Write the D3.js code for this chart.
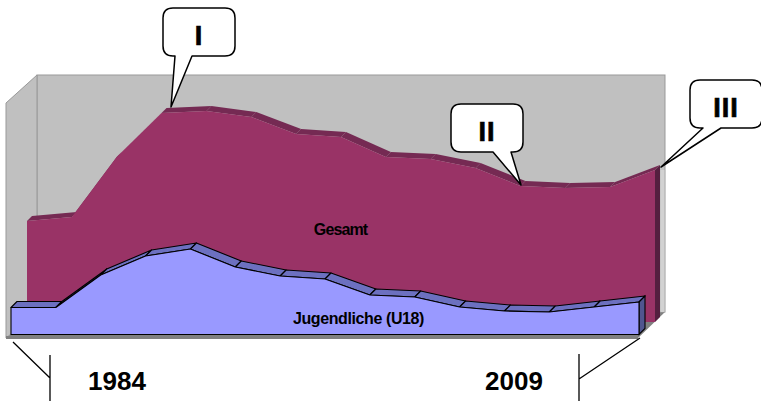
<!DOCTYPE html>
<html>
<head>
<meta charset="utf-8">
<style>
html, body { margin: 0; padding: 0; background: #fff; }
svg { display: block; }
text { font-family: "Liberation Sans", Arial, sans-serif; fill: #000; }
</style>
<script src="https://d3js.org/d3.v7.min.js"></script>
</head>
<body>
<script>

// only the first and last step are labelled in the picture
var steps = [0, 1, 2, 3, 4, 5, 6, 7, 8, 9, 10, 11, 12, 13, 14];
var yearLabels = ["1984", "2009"];
var gesamt = [101, 105, 165, 209, 211, 205, 188, 185, 165, 163, 154, 136, 134, 135, 152];
var jugendliche = [27, 27, 59.5, 78.5, 85.5, 67.5, 58.5, 55.5, 39.5, 37.5, 27.5, 23.5, 22.5, 27.5, 32.5];
var calloutLabels = ["I", "II", "III"];

var width = 761,
  height = 401;

var svg = d3.select("body").append("svg")
  .attr("width", width)
  .attr("height", height);

var x = d3.scalePoint().domain(steps).range([0, 628]);
var y = d3.scaleLinear().domain([0, 260]).range([0, -260]);

function poly(pts) {
  return "M" + pts.map(function(p) { return p.join(","); }).join("L") + "Z";
}

// walls and floor
var walls = svg.append("g");
walls.append("path")
  .attr("d", poly([[6, 338], [638, 338], [665, 312], [37, 312]]))
  .attr("fill", "#808080");
walls.append("rect")
  .attr("x", 37).attr("y", 75).attr("width", 628).attr("height", 237)
  .attr("fill", "#c0c0c0").attr("stroke", "#999").attr("stroke-width", 1);
walls.append("path")
  .attr("d", poly([[6, 103], [37, 75], [37, 312], [6, 338]]))
  .attr("fill", "#c0c0c0").attr("stroke", "#999").attr("stroke-width", 1);
walls.append("rect")
  .attr("x", 660.5).attr("y", 170).attr("width", 4).attr("height", 142)
  .attr("fill", "#d2d2d2");
walls.append("path")
  .attr("d", "M6,337.5H638").attr("stroke", "#808080").attr("stroke-width", 3);

function drawSeries(values, o) {
  var g = svg.append("g").attr("transform", "translate(" + o.x + "," + o.y + ")");
  var dx = o.depth, dy = -o.depth;

  // top faces, one per segment, the front face covers the steep ones
  g.selectAll(".top")
    .data(values.slice(1))
    .enter().append("path")
    .attr("class", "top")
    .attr("fill", o.top)
    .attr("stroke", o.edge)
    .attr("stroke-width", o.edgeWidth)
    .attr("stroke-linejoin", "round")
    .attr("d", function(d, i) {
      var x0 = x(i), x1 = x(i + 1), y0 = y(values[i]), y1 = y(d);
      return poly([[x0, y0], [x1, y1], [x1 + dx, y1 + dy], [x0 + dx, y0 + dy]]);
    });

  // right side
  var last = values.length - 1;
  g.append("path")
    .attr("fill", o.side)
    .attr("stroke", o.edge)
    .attr("stroke-width", o.edgeWidth)
    .attr("d", poly([[x(last), y(values[last])], [x(last) + dx, y(values[last]) + dy], [x(last) + dx, dy], [x(last), 0]]));

  // front face
  var area = d3.area()
    .x(function(d, i) { return x(i); })
    .y0(0)
    .y1(function(d) { return y(d); });
  g.append("path")
    .attr("d", area(values))
    .attr("fill", o.front)
    .attr("stroke", o.edge)
    .attr("stroke-width", o.edgeWidth)
    .attr("stroke-linejoin", "round");
}

drawSeries(gesamt, { x: 27, y: 322, depth: 5, top: "#752a53", side: "#541f3f", front: "#993366", edge: "none", edgeWidth: 0 });
drawSeries(jugendliche, { x: 11, y: 334.5, depth: 6, top: "#6c70c0", side: "#50558f", front: "#9999ff", edge: "#000", edgeWidth: 1.1 });

// series names
svg.append("text")
  .attr("x", 340.5).attr("y", 235)
  .attr("text-anchor", "middle")
  .attr("font-size", 16).attr("font-weight", "bold")
  .attr("letter-spacing", -0.9)
  .text("Gesamt");
svg.append("text")
  .attr("x", 358.5).attr("y", 324)
  .attr("text-anchor", "middle")
  .attr("font-size", 16).attr("font-weight", "bold")
  .attr("letter-spacing", -0.4)
  .text("Jugendliche (U18)");

// year brackets
var brackets = [
  "M13,342L50,378M50,355V401",
  "M640,338L579,379M579,354V401"
];
svg.selectAll(".bracket")
  .data(brackets)
  .enter().append("path")
  .attr("class", "bracket")
  .attr("d", function(d) { return d; })
  .attr("fill", "none")
  .attr("stroke", "#000")
  .attr("stroke-width", 1.3);

svg.selectAll(".year")
  .data(yearLabels)
  .enter().append("text")
  .attr("class", "year")
  .attr("x", function(d, i) { return [117, 514][i]; })
  .attr("y", 390)
  .attr("text-anchor", "middle")
  .attr("font-size", 26)
  .attr("font-weight", "bold")
  .text(function(d) { return d; });

// callouts
function callout(label, b, tip) {
  var r = 10;
  var d = "M" + (b.x + r) + "," + b.y +
    "H" + (b.x + b.w - r) + "Q" + (b.x + b.w) + "," + b.y + " " + (b.x + b.w) + "," + (b.y + r) +
    "V" + (b.y + b.h - r) + "Q" + (b.x + b.w) + "," + (b.y + b.h) + " " + (b.x + b.w - r) + "," + (b.y + b.h) +
    "H" + b.p1 + "L" + tip[0] + "," + tip[1] + "L" + b.p0 + "," + (b.y + b.h) +
    "H" + (b.x + r) + "Q" + b.x + "," + (b.y + b.h) + " " + b.x + "," + (b.y + b.h - r) +
    "V" + (b.y + r) + "Q" + b.x + "," + b.y + " " + (b.x + r) + "," + b.y + "Z";
  svg.append("path")
    .attr("d", d)
    .attr("fill", "#fff")
    .attr("stroke", "#000")
    .attr("stroke-width", 1.5)
    .attr("stroke-linejoin", "round");
  svg.append("text")
    .attr("x", b.x + b.w / 2)
    .attr("y", b.y + b.h / 2 + 13)
    .attr("text-anchor", "middle")
    .attr("font-size", 27)
    .attr("font-weight", "bold")
    .attr("letter-spacing", 1)
    .attr("stroke", "#000")
    .attr("stroke-width", 0.7)
    .text(label);
}

callout(calloutLabels[0], { x: 163, y: 8, w: 72, h: 48, p0: 175, p1: 192 }, [171, 107]);
callout(calloutLabels[1], { x: 451, y: 104, w: 72, h: 48, p0: 493, p1: 511 }, [521, 185]);
callout(calloutLabels[2], { x: 690, y: 80, w: 72, h: 48, p0: 703, p1: 721 }, [661, 167]);

</script>
</body>
</html>
